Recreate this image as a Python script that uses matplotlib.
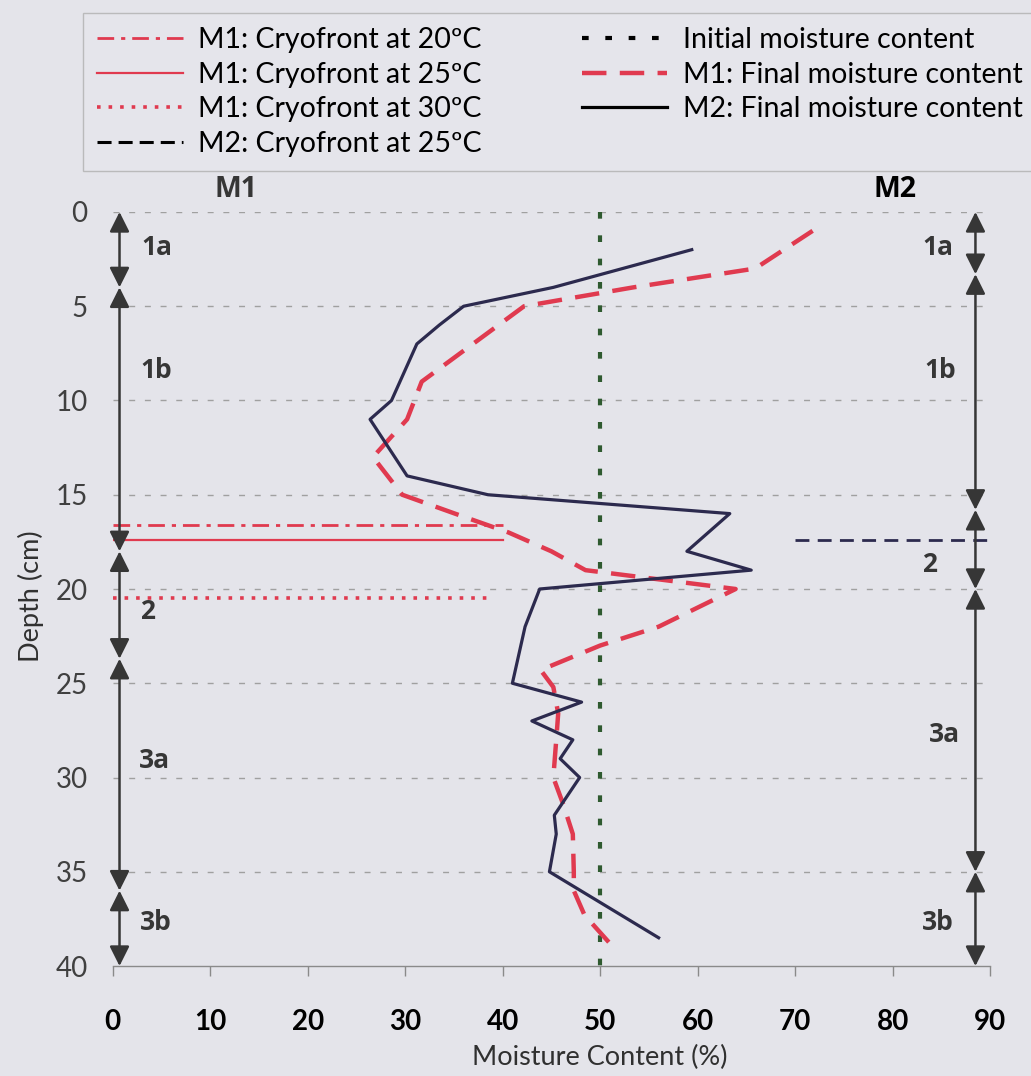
import matplotlib
matplotlib.use("Agg")
import matplotlib.pyplot as plt
from matplotlib.lines import Line2D

plt.rcParams["font.family"] = ["Lato", "DejaVu Sans"]

# ---------------------------------------------------------------------------
# Data
# ---------------------------------------------------------------------------

# M1: final moisture content profile (red dashed)
m1_depth = [1, 3, 4, 5, 9, 11, 13, 15, 16, 17, 18, 19, 20, 22, 23, 24.3,
            25.2, 26.6, 28, 30, 31.4, 33, 35, 36, 37.3, 39.2]
m1_moist = [71.8, 65.9, 53.4, 42.2, 31.7, 30.2, 26.7, 29.7, 35.1, 40.6, 45.0,
            48.5, 63.9, 56.0, 50.0, 43.9, 45.2, 45.7, 45.5, 45.2, 46.2, 47.2,
            47.3, 47.3, 48.4, 51.7]

# M2: final moisture content profile (navy solid)
m2_depth = [2, 4, 5, 6, 7, 10, 11, 14, 15, 16, 18, 19, 20, 22, 25, 26, 27,
            28, 29, 30, 32, 33, 35, 38.5]
m2_moist = [59.4, 45.2, 36.0, 33.5, 31.2, 28.6, 26.4, 30.2, 38.5, 63.3, 58.9,
            65.5, 43.8, 42.3, 41.0, 48.1, 43.0, 47.2, 45.9, 47.9, 45.3, 45.5,
            44.8, 56.0]

initial_moisture = 50

# Cryofront positions
cryo_labels = ["M1: Cryofront at 20ºC", "M1: Cryofront at 25ºC",
               "M1: Cryofront at 30ºC", "M2: Cryofront at 25ºC"]
cryo_depth = [16.6, 17.4, 20.5, 17.4]
cryo_x0 = [0, 0, 0, 70]
cryo_x1 = [40, 40, 39, 90]

# Stratigraphic zones
zone_names = ["1a", "1b", "2", "3a", "3b"]
m1_bounds = [0, 4, 18, 23.7, 36, 40]
m2_bounds = [0, 3.3, 15.8, 20, 35, 40]
m1_label_depth = [1.9, 8.4, 21.2, 29.1, 37.7]
m2_label_depth = [1.9, 8.4, 18.7, 27.7, 37.7]

# ---------------------------------------------------------------------------
# Styles
# ---------------------------------------------------------------------------

BG = "#e4e4ea"
RED = "#e03a4f"
NAVY = "#2c2a4e"
GREEN = "#2f5a30"
DARK = "#363636"

cryo_styles = [
    dict(color=RED, lw=2.0, ls=(0, (6, 2.5, 1.5, 2.5))),
    dict(color=RED, lw=1.6, ls="-"),
    dict(color=RED, lw=2.6, ls=(0, (1, 2.2))),
    dict(color=NAVY, lw=2.0, ls=(0, (5, 3))),
]

fig = plt.figure(figsize=(10.31, 10.76), dpi=100, facecolor=BG)
ax = fig.add_axes([0.1093, 0.1022, 0.851, 0.7008])
ax.set_facecolor(BG)

ax.set_xlim(0, 90)
ax.set_ylim(40, 0)

# horizontal gridlines
for d in range(0, 40, 5):
    ax.plot([0, 90], [d, d], color="#a0a0a0", lw=1.0, ls=(0, (4.3, 7)), zorder=1)

# initial moisture
ax.plot([initial_moisture, initial_moisture], [0, 40], color=GREEN, lw=3.0,
        ls=(0, (1.6, 4.0)), zorder=2)

# cryofronts
for d, x0, x1, st in zip(cryo_depth, cryo_x0, cryo_x1, cryo_styles):
    ax.plot([x0, x1], [d, d], zorder=3, **st)

# final moisture profiles
ax.plot(m1_moist, m1_depth, color=RED, lw=3.2, ls=(0, (5.5, 3)), zorder=4)
ax.plot(m2_moist, m2_depth, color=NAVY, lw=2.3, zorder=5)

# zone arrows
arrow_style = "<|-|>,head_length=0.6,head_width=0.3"
for bounds, xa in [(m1_bounds, 0.7), (m2_bounds, 88.5)]:
    for a, b in zip(bounds[:-1], bounds[1:]):
        ax.annotate("", xy=(xa, b), xytext=(xa, a),
                    arrowprops=dict(arrowstyle=arrow_style, color=DARK, lw=1.8,
                                    shrinkA=0, shrinkB=0, mutation_scale=20),
                    zorder=6)

m1_label_x = [4.5, 4.5, 3.6, 4.3, 4.4]
m2_label_x = [84.7, 84.9, 83.8, 85.3, 84.6]
for name, d, x in zip(zone_names, m1_label_depth, m1_label_x):
    ax.text(x, d, name, ha="center", va="center", fontsize=19,
            fontweight="bold", color=DARK, family="Open Sans")
for name, d, x in zip(zone_names, m2_label_depth, m2_label_x):
    ax.text(x, d, name, ha="center", va="center", fontsize=19,
            fontweight="bold", color=DARK, family="Open Sans")

ax.text(12.7, -1.2, "M1", ha="center", va="center", fontsize=20.5,
        fontweight="bold", color=DARK, family="Open Sans", clip_on=False)
ax.text(80.2, -1.2, "M2", ha="center", va="center", fontsize=20.5,
        fontweight="bold", color="black", family="Open Sans", clip_on=False)

# axes styling
for side in ["top", "right", "left"]:
    ax.spines[side].set_visible(False)
ax.spines["bottom"].set_color("#8a8a8a")
ax.spines["bottom"].set_linewidth(1.0)

ax.set_xticks(range(0, 91, 10))
ax.set_yticks(range(0, 41, 5))
ax.tick_params(axis="x", direction="out", length=7, width=1, color="#8a8a8a",
               pad=24, labelsize=20)
ax.tick_params(axis="y", length=0, pad=18, labelsize=20, labelcolor="#404040")
for lbl in ax.get_xticklabels():
    lbl.set_fontweight("bold")

ax.set_xlabel("Moisture Content (%)", fontsize=19.5, color="#303030")
ax.set_ylabel("Depth (cm)", fontsize=19.5, color="#303030")
ax.xaxis.set_label_coords(0.555, -0.104)
ax.yaxis.set_label_coords(-0.078, 0.49)

# legend
handles = [Line2D([], [], **st) for st in cryo_styles]
handles[3] = Line2D([], [], color="black", lw=2.2, ls=(0, (4.6, 2.3)))
handles += [
    Line2D([], [], color="black", lw=3.0, ls=(0, (1.6, 4.0))),
    Line2D([], [], color=RED, lw=3.2, ls=(0, (5.5, 3))),
    Line2D([], [], color="black", lw=2.3),
]
labels = cryo_labels + ["Initial moisture content", "M1: Final moisture content",
                        "M2: Final moisture content"]
leg = fig.legend(handles, labels, loc="upper left", bbox_to_anchor=(0.0805, 0.988),
                 borderaxespad=0, ncol=2, fontsize=20.5, frameon=True,
                 fancybox=False, handlelength=3.0, handletextpad=0.55,
                 columnspacing=3.5, labelspacing=0.3, borderpad=0.5)
leg.get_frame().set_facecolor("#e6e6ec")
leg.get_frame().set_edgecolor("#b0b0b0")

fig.savefig("out.png", dpi=100, facecolor=BG)
